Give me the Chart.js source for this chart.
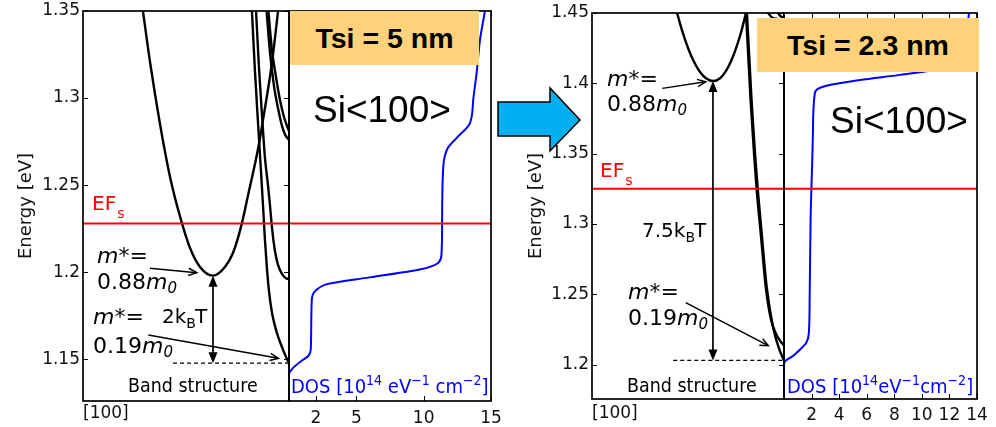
<!DOCTYPE html>
<html>
<head>
<meta charset="utf-8">
<title>Subband structure and DOS, Si&lt;100&gt;</title>
<script src="https://cdn.jsdelivr.net/npm/chart.js@4.4.1/dist/chart.umd.min.js"></script>
<style>
  html, body { margin: 0; padding: 0; background: #fff; }
  #stage { position: relative; width: 996px; height: 427px; overflow: hidden; font-family: "DejaVu Sans", sans-serif; }
  #stage canvas, #stage svg { position: absolute; left: 0; top: 0; }
  .t { position: absolute; white-space: nowrap; line-height: 1; color: #000; }
  .t sub, .t sup { position: relative; vertical-align: baseline; line-height: 0; }
  .m { font-size: 22px; }
  .m sub { font-size: 15px; top: 4px; }
  .kt { font-size: 20px; }
  .kt sub { font-size: 14px; top: 5px; margin-right: -1px; }
  .ef { font-size: 20px; color: #ff0000; }
  .ef sub { font-size: 14px; top: 8px; margin-left: 1px; }
  .bs { font-size: 19px; transform: scaleX(0.92); transform-origin: 0 0; }
  .dos { font-size: 20px; color: #0000ff; transform: scaleX(0.9); transform-origin: 0 0; }
  .dos sup { font-size: 14px; top: -8px; }
  .box { position: absolute; background: #fdd27b; display: flex; align-items: center; justify-content: center;
         font-family: "Liberation Sans", Arial, sans-serif; font-weight: bold; font-size: 28.5px; color: #000; }
  .si { position: absolute; white-space: nowrap; line-height: 1; font-family: "Liberation Sans", Arial, sans-serif; font-size: 37px; color: #000; }
</style>
</head>
<body>
<div id="stage">
  <svg width="996" height="427">
    <polygon points="498,102 550,102 550,88 580,120 550,151 550,136 498,136" fill="#00b0f0" stroke="#000" stroke-width="1.5" stroke-linejoin="miter"/>
  </svg>
  <canvas id="bandA" width="996" height="427"></canvas>
  <canvas id="dosA" width="996" height="427"></canvas>
  <canvas id="bandB" width="996" height="427"></canvas>
  <canvas id="dosB" width="996" height="427"></canvas>

  <!-- Tsi = 5 nm -->
  <div class="t ef" style="left:92px;top:193px">EF<sub>s</sub></div>
  <div class="t m" style="left:97px;top:244.5px"><i>m</i>*=</div>
  <div class="t m" style="left:97px;top:270.5px">0.88<i>m</i><sub><i>0</i></sub></div>
  <div class="t kt" style="left:162px;top:305.6px">2k<sub>B</sub>T</div>
  <div class="t m" style="left:93px;top:306.4px"><i>m</i>*=</div>
  <div class="t m" style="left:93px;top:335.4px">0.19<i>m</i><sub><i>0</i></sub></div>
  <div class="t bs" style="left:128px;top:375.6px">Band structure</div>
  <div class="t dos" style="left:291px;top:376.4px">DOS [10<sup>14</sup> eV<sup>−1</sup> cm<sup>−2</sup>]</div>
  <div class="box" style="left:290px;top:11px;width:189px;height:54px">Tsi = 5 nm</div>
  <div class="si" style="left:313px;top:90.7px">Si&lt;100&gt;</div>

  <!-- Tsi = 2.3 nm -->
  <div class="t ef" style="left:600px;top:159.8px">EF<sub>s</sub></div>
  <div class="t m" style="left:607px;top:68.1px"><i>m</i>*=</div>
  <div class="t m" style="left:607px;top:93.1px">0.88<i>m</i><sub><i>0</i></sub></div>
  <div class="t kt" style="left:642px;top:219.8px">7.5k<sub>B</sub>T</div>
  <div class="t m" style="left:628px;top:281.4px"><i>m</i>*=</div>
  <div class="t m" style="left:628px;top:306.9px">0.19<i>m</i><sub><i>0</i></sub></div>
  <div class="t bs" style="left:627px;top:375.6px">Band structure</div>
  <div class="t dos" style="left:787px;top:376.4px">DOS [10<sup>14</sup>eV<sup>−1</sup>cm<sup>−2</sup>]</div>
  <div class="box" style="left:757px;top:18px;width:222px;height:54px">Tsi = 2.3 nm</div>
  <div class="si" style="left:830px;top:101.7px">Si&lt;100&gt;</div>
</div>

<script>
// ---- Tsi = 5 nm -------------------------------------------------------
// energy window [eV] and ticks
const eMinA = 1.126, eMaxA = 1.35;
const eTicksA = [1.15, 1.2, 1.25, 1.3, 1.35];
const efA = 1.228;                       // Fermi level EFs
const dosMaxA = 15;
const dosTicksA = [2, 5, 10, 15];

// subbands along [100] (k = 0 at the left edge, Γ at k = 1)
const kHeavyA = [0.291, 0.325, 0.374, 0.422, 0.471, 0.519, 0.568, 0.631, 0.689, 0.728, 0.767, 0.801, 0.850, 0.883, 0.917, 0.947];
const eHeavyA = [1.35, 1.321, 1.285, 1.255, 1.232, 1.214, 1.203, 1.198, 1.203, 1.211, 1.226, 1.244, 1.271, 1.294, 1.32, 1.35];
const kLight1A = [0.820, 0.835, 0.850, 0.864, 0.874, 0.883, 0.893, 0.903, 0.917, 0.932, 0.947, 0.966, 0.981, 1.0];
const eLight1A = [1.35, 1.315, 1.285, 1.258, 1.238, 1.219, 1.202, 1.189, 1.177, 1.169, 1.163, 1.157, 1.1525, 1.1477];
const kLight2A = [0.840, 0.854, 0.869, 0.883, 0.898, 0.908, 0.917, 0.932, 0.947, 0.966, 0.985, 1.0];
const eLight2A = [1.35, 1.318, 1.29, 1.266, 1.25, 1.238, 1.226, 1.212, 1.204, 1.199, 1.1965, 1.196];
const kUpper1A = [0.891, 0.908, 0.927, 0.947, 0.966, 0.981, 1.0];
const eUpper1A = [1.35, 1.326, 1.307, 1.294, 1.284, 1.279, 1.276];
const kUpper2A = [0.900, 0.917, 0.937, 0.956, 0.976, 1.0];
const eUpper2A = [1.35, 1.328, 1.312, 1.299, 1.289, 1.281];

// density of states [1e14 eV^-1 cm^-2] vs energy
const dosA  = [0, 0, 0.3, 0.99, 1.45, 1.62, 1.69, 1.99, 2.99, 5.97, 9.70, 11.07, 11.32, 11.37, 11.45, 11.8, 12.44, 13.43, 13.68, 13.93, 14.18, 14.55];
const eDosA = [1.126, 1.141, 1.145, 1.1494, 1.152, 1.156, 1.1838, 1.1895, 1.1934, 1.197, 1.2015, 1.2053, 1.21, 1.2275, 1.26, 1.2714, 1.277, 1.2855, 1.299, 1.3142, 1.3332, 1.35];

// ---- Tsi = 2.3 nm -----------------------------------------------------
const eMinB = 1.1755, eMaxB = 1.45;
const eTicksB = [1.2, 1.25, 1.3, 1.35, 1.4, 1.45];
const efB = 1.325;
const dosMaxB = 14;
const dosTicksB = [2, 4, 6, 8, 10, 12, 14];

const kHeavyB = [0.443, 0.469, 0.5, 0.531, 0.5625, 0.594, 0.630, 0.667, 0.698, 0.724, 0.75, 0.776, 0.802];
const eHeavyB = [1.45, 1.4376, 1.4251, 1.4153, 1.4081, 1.4036, 1.4016, 1.4036, 1.4089, 1.4157, 1.4248, 1.4361, 1.45];
const kLight1B = [0.807, 0.831, 0.849, 0.865, 0.884, 0.910, 0.944, 0.979, 1.0];
const eLight1B = [1.45, 1.388, 1.35, 1.322, 1.293, 1.255, 1.226, 1.2095, 1.2029];
const kLight2B = [0.802, 0.826, 0.844, 0.859, 0.879, 0.905, 0.932, 0.958, 0.979, 1.0];
const eLight2B = [1.45, 1.388, 1.35, 1.322, 1.293, 1.255, 1.232, 1.222, 1.217, 1.2135];
const kUpper1B = [0.917, 0.938, 0.964, 1.0];
const eUpper1B = [1.45, 1.4468, 1.4458, 1.4455];
const kUpper2B = [0.969, 0.984, 1.0];
const eUpper2B = [1.45, 1.4475, 1.447];

const dosB  = [0, 0, 0.12, 0.64, 1.2, 1.62, 1.8, 1.86, 1.93, 2.1, 2.22, 2.45, 3.07, 5.5, 8.41, 10.84, 12.3, 13.0, 13.3, 13.42];
const eDosB = [1.1755, 1.2, 1.2028, 1.206, 1.211, 1.2155, 1.222, 1.2464, 1.3036, 1.3655, 1.3917, 1.396, 1.3983, 1.4024, 1.406, 1.4095, 1.414, 1.425, 1.44, 1.45];

// ---------------------------------------------------------------------
const pts = (xs, ys) => xs.map((x, i) => ({ x, y: ys[i] }));
const tickFont = { family: 'DejaVu Sans', size: 17 };
const INK = '#111';

// frame around the plot area with inward tick marks
const framePlugin = {
  id: 'frame',
  afterDatasetsDraw(chart, _args, o) {
    const { ctx, chartArea: a, scales } = chart;
    const seg = (x0, y0, x1, y1) => { ctx.beginPath(); ctx.moveTo(x0, y0); ctx.lineTo(x1, y1); ctx.stroke(); };
    ctx.save();
    ctx.strokeStyle = '#000';
    ctx.lineWidth = 1;
    if (o.yTicks) scales.y.ticks.forEach(t => {
      const p = Math.round(scales.y.getPixelForValue(t.value)) + 0.5;
      seg(a.left, p, a.left + 5, p); seg(a.right, p, a.right - 5, p);
    });
    if (o.xTicks) scales.x.ticks.forEach(t => {
      const p = Math.round(scales.x.getPixelForValue(t.value)) + 0.5;
      seg(p, a.bottom, p, a.bottom - 5); seg(p, a.top, p, a.top + 5);
    });
    ctx.lineWidth = 1.7;
    ctx.strokeRect(a.left, a.top, a.right - a.left, a.bottom - a.top);
    ctx.restore();
  }
};

// energy gap arrow, dashed level and pointers to the valley minima
const notesPlugin = {
  id: 'notes',
  afterDatasetsDraw(chart, _args, o) {
    if (!o || !o.gapK) return;
    const { ctx, scales: { x, y } } = chart;
    const P = (k, e) => [x.getPixelForValue(k), y.getPixelForValue(e)];
    ctx.save();
    ctx.strokeStyle = '#000'; ctx.fillStyle = '#000';

    ctx.setLineDash([4, 3]); ctx.lineWidth = 1.2;
    const [d0, dy] = P(o.dashFrom, o.gapLow), [d1] = P(1, o.gapLow);
    ctx.beginPath(); ctx.moveTo(d0, dy); ctx.lineTo(d1, dy); ctx.stroke();
    ctx.setLineDash([]);

    const [gx, gTop] = P(o.gapK, o.gapHigh), [, gBot] = P(o.gapK, o.gapLow);
    const hl = 11, hw = 4.5;
    ctx.lineWidth = 1.7;
    ctx.beginPath(); ctx.moveTo(gx, gTop + hl - 1); ctx.lineTo(gx, gBot - hl + 1); ctx.stroke();
    ctx.beginPath(); ctx.moveTo(gx, gTop); ctx.lineTo(gx - hw, gTop + hl); ctx.lineTo(gx + hw, gTop + hl); ctx.closePath(); ctx.fill();
    ctx.beginPath(); ctx.moveTo(gx, gBot); ctx.lineTo(gx - hw, gBot - hl); ctx.lineTo(gx + hw, gBot - hl); ctx.closePath(); ctx.fill();

    ctx.lineWidth = 1.5;
    o.pointers.forEach(([k0, e0, k1, e1]) => {
      const [x0, y0] = P(k0, e0), [x1, y1] = P(k1, e1);
      const ang = Math.atan2(y1 - y0, x1 - x0), L = 9, A = 0.42;
      ctx.beginPath(); ctx.moveTo(x0, y0); ctx.lineTo(x1, y1); ctx.stroke();
      ctx.beginPath();
      ctx.moveTo(x1 - L * Math.cos(ang - A), y1 - L * Math.sin(ang - A));
      ctx.lineTo(x1, y1);
      ctx.lineTo(x1 - L * Math.cos(ang + A), y1 - L * Math.sin(ang + A));
      ctx.stroke();
    });
    ctx.restore();
  }
};

const baseOpts = {
  responsive: false, animation: false, events: [],
  elements: { point: { radius: 0 }, line: { borderCapStyle: 'round', borderJoinStyle: 'round' } },
};

function bandChart(id, c) {
  const curve = (k, e) => ({ data: pts(k, e), borderColor: '#000', borderWidth: 2.4, cubicInterpolationMode: 'monotone' });
  return new Chart(document.getElementById(id), {
    type: 'line',
    data: {
      datasets: [
        { data: pts([0, 1], [c.ef, c.ef]), borderColor: '#ff0000', borderWidth: 2 },
        ...c.curves.map(([k, e]) => curve(k, e))
      ]
    },
    options: {
      ...baseOpts,
      layout: { padding: c.pad },
      plugins: { legend: { display: false }, tooltip: { enabled: false }, frame: { yTicks: true }, notes: c.notes },
      scales: {
        x: {
          type: 'linear', min: 0, max: 1,
          grid: { display: false, drawTicks: false }, border: { display: false },
          afterBuildTicks: s => { s.ticks = [{ value: 0 }]; },
          ticks: { callback: () => '[100]', align: 'start', padding: c.xPad, font: tickFont, color: INK, maxRotation: 0, autoSkip: false },
          afterFit: s => { s.height = 26; s.paddingLeft = 0; s.paddingRight = 0; }
        },
        y: {
          type: 'linear', min: c.eMin, max: c.eMax,
          grid: { display: false, drawTicks: false }, border: { display: false },
          afterBuildTicks: s => { s.ticks = c.eTicks.map(v => ({ value: v })); },
          ticks: { callback: v => String(v), padding: 3, font: tickFont, color: INK, autoSkip: false },
          title: { display: true, text: 'Energy [eV]', font: { family: 'DejaVu Sans', size: 18 }, color: INK, padding: { top: c.titlePad, bottom: 0 } },
          afterFit: s => { s.width = 70; s.paddingTop = 0; s.paddingBottom = 0; }
        }
      }
    },
    plugins: [framePlugin, notesPlugin]
  });
}

function dosChart(id, c) {
  return new Chart(document.getElementById(id), {
    type: 'line',
    data: {
      datasets: [
        { data: pts([0, c.max], [c.ef, c.ef]), borderColor: '#ff0000', borderWidth: 2 },
        { data: pts(c.dos, c.e), borderColor: '#0000ff', borderWidth: 2, cubicInterpolationMode: 'monotone' }
      ]
    },
    options: {
      ...baseOpts,
      indexAxis: 'y',
      layout: { padding: c.pad },
      plugins: { legend: { display: false }, tooltip: { enabled: false }, frame: { xTicks: true } },
      scales: {
        x: {
          type: 'linear', min: 0, max: c.max,
          grid: { display: false, drawTicks: false }, border: { display: false },
          afterBuildTicks: s => { s.ticks = c.ticks.map(v => ({ value: v })); },
          ticks: { callback: v => String(v), padding: c.xPad, font: { family: 'DejaVu Sans', size: 17 }, color: INK, maxRotation: 0, autoSkip: false },
          afterFit: s => { s.height = 26; s.paddingLeft = 0; s.paddingRight = 0; }
        },
        y: { type: 'linear', display: false, min: c.eMin, max: c.eMax }
      }
    },
    plugins: [framePlugin]
  });
}

const iMinA = eHeavyA.indexOf(Math.min(...eHeavyA));
const iMinB = eHeavyB.indexOf(Math.min(...eHeavyB));

bandChart('bandA', {
  eMin: eMinA, eMax: eMaxA, eTicks: eTicksA, ef: efA,
  pad: { left: 13, right: 707, top: 11, bottom: 0 }, xPad: 2, titlePad: 3,
  curves: [[kHeavyA, eHeavyA], [kLight1A, eLight1A], [kLight2A, eLight2A], [kUpper1A, eUpper1A], [kUpper2A, eUpper2A]],
  notes: {
    gapK: kHeavyA[iMinA], gapHigh: eHeavyA[iMinA], gapLow: Math.min(...eLight1A), dashFrom: 0.437,
    pointers: [[0.325, 1.2022, 0.552, 1.1997], [0.317, 1.1639, 0.948, 1.1505]]
  }
});
dosChart('dosA', {
  eMin: eMinA, eMax: eMaxA, ef: efA, max: dosMaxA, ticks: dosTicksA, dos: dosA, e: eDosA,
  pad: { left: 289, right: 505, top: 11, bottom: 0 }, xPad: 7
});

bandChart('bandB', {
  eMin: eMinB, eMax: eMaxB, eTicks: eTicksB, ef: efB,
  pad: { left: 522, right: 212, top: 13, bottom: 2 }, xPad: 4, titlePad: 4,
  curves: [[kHeavyB, eHeavyB], [kLight1B, eLight1B], [kLight2B, eLight2B], [kUpper1B, eUpper1B], [kUpper2B, eUpper2B]],
  notes: {
    gapK: kHeavyB[iMinB], gapHigh: eHeavyB[iMinB], gapLow: Math.min(...eLight1B), dashFrom: 0.423,
    pointers: [[0.366, 1.3964, 0.592, 1.4011], [0.488, 1.244, 0.918, 1.2134]]
  }
});
dosChart('dosB', {
  eMin: eMinB, eMax: eMaxB, ef: efB, max: dosMaxB, ticks: dosTicksB, dos: dosB, e: eDosB,
  pad: { left: 784, right: 19, top: 13, bottom: 2 }, xPad: 6
});
</script>
</body>
</html>
